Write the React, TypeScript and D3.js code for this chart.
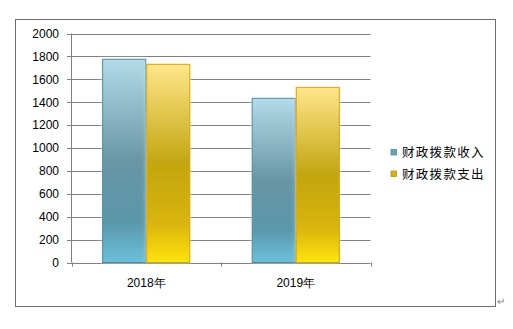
import React from "react";
import * as d3 from "d3";

const categories = ["2018年", "2019年"];
const seriesNames = ["财政拨款收入", "财政拨款支出"];
const incomeValues = [1775, 1434];
const expenseValues = [1731, 1530];
const yTicks = [0, 200, 400, 600, 800, 1000, 1200, 1400, 1600, 1800, 2000];

const W = 513;
const H = 329;

export default function App() {
  const x0 = 71.5;
  const x1 = 370.5;
  const y = d3.scaleLinear().domain([0, 2000]).range([262.5, 33.5]);
  const xBand = d3.scaleBand<string>().domain(categories).range([x0, x1]).paddingInner(0.41).paddingOuter(0.205);
  const xSeries = d3.scaleBand<number>().domain([0, 1]).range([0, xBand.bandwidth()]);
  const series = [incomeValues, expenseValues];
  const fills = ["url(#gBlue)", "url(#gGold)"];
  const strokes = ["#4f8a9e", "#c9a424"];
  const legendFill = ["#6e9fb0", "#d2b21c"];
  const legendStroke = ["#4f8a9e", "#b89612"];

  return (
    <svg width={W} height={H} style={{ position: "absolute", left: 0, top: 0 }}
      fontFamily="'Liberation Sans', Arial, sans-serif">
      <defs>
        <linearGradient id="gBlue" x1="0" y1="0" x2="0" y2="1">
          <stop offset="0" stopColor="#b3dbe9" />
          <stop offset="0.5" stopColor="#6896a5" />
          <stop offset="0.8" stopColor="#5a97aa" />
          <stop offset="1" stopColor="#6cc0dc" />
        </linearGradient>
        <linearGradient id="gGold" x1="0" y1="0" x2="0" y2="1">
          <stop offset="0" stopColor="#ffe68a" />
          <stop offset="0.5" stopColor="#c3a511" />
          <stop offset="0.8" stopColor="#d8b40c" />
          <stop offset="1" stopColor="#ffe30a" />
        </linearGradient>
        <filter id="glow" x="-20%" y="-10%" width="140%" height="120%">
          <feGaussianBlur in="SourceAlpha" stdDeviation="2" result="b" />
          <feFlood floodColor="#fff2b0" floodOpacity="0.7" />
          <feComposite in2="b" operator="in" result="c" />
          <feMerge>
            <feMergeNode in="c" />
            <feMergeNode in="SourceGraphic" />
          </feMerge>
        </filter>
        <filter id="glowB" x="-20%" y="-10%" width="140%" height="120%">
          <feGaussianBlur in="SourceAlpha" stdDeviation="2" result="b" />
          <feFlood floodColor="#d8eef5" floodOpacity="0.7" />
          <feComposite in2="b" operator="in" result="c" />
          <feMerge>
            <feMergeNode in="c" />
            <feMergeNode in="SourceGraphic" />
          </feMerge>
        </filter>
      </defs>
      <rect x={0} y={0} width={W} height={H} fill="#fff" />
      <rect x={15.5} y={19.5} width={480} height={287} fill="#fff" stroke="#6e6e6e" strokeWidth={1} />

      {yTicks.map((t) => (
        <g key={t}>
          <line x1={67} x2={x1} y1={Math.round(y(t)) + 0.5} y2={Math.round(y(t)) + 0.5}
            stroke="#808080" strokeWidth={1} />
          <text x={59} y={y(t)} dy="0.36em" textAnchor="end" fontSize={12} fill="#000">{t}</text>
        </g>
      ))}
      <line x1={x0} x2={x0} y1={y(2000)} y2={y(0)} stroke="#808080" />
      {[x0, (x0 + x1) / 2, x1].map((xx, i) => (
        <line key={i} x1={Math.round(xx) + 0.5} x2={Math.round(xx) + 0.5} y1={262.5} y2={266.5} stroke="#808080" />
      ))}

      {categories.map((c, ci) => (
        <g key={c}>
          {series.map((vals, si) => {
            const bx = (xBand(c) as number) + (xSeries(si) as number);
            const top = y(vals[ci]);
            return (
              <rect key={si} x={bx + 0.5} y={top} width={xSeries.bandwidth() - 1} height={y(0) - top}
                fill={fills[si]} stroke={strokes[si]} strokeWidth={1}
                filter={si === 0 ? "url(#glowB)" : "url(#glow)"} />
            );
          })}
          <text x={(xBand(c) as number) + xBand.bandwidth() / 2} y={283} dy="0.36em" textAnchor="middle"
            fontSize={12} fill="#000">{c}</text>
        </g>
      ))}

      {seriesNames.map((n, i) => (
        <g key={n} transform={`translate(0, ${152.5 + i * 21.5})`}>
          <rect x={391} y={-3} width={5.5} height={5.5} fill={legendFill[i]} stroke={legendStroke[i]} strokeWidth={0.8} />
          <text x={402} y={0} dy="0.36em" fontSize={12.5} letterSpacing={1.3} fill="#000"
            fontFamily="'Noto Sans CJK SC', sans-serif">{n}</text>
        </g>
      ))}

      <text x={497} y={301} dy="0.36em" fontSize={10} fill="#888">↵</text>
    </svg>
  );
}
